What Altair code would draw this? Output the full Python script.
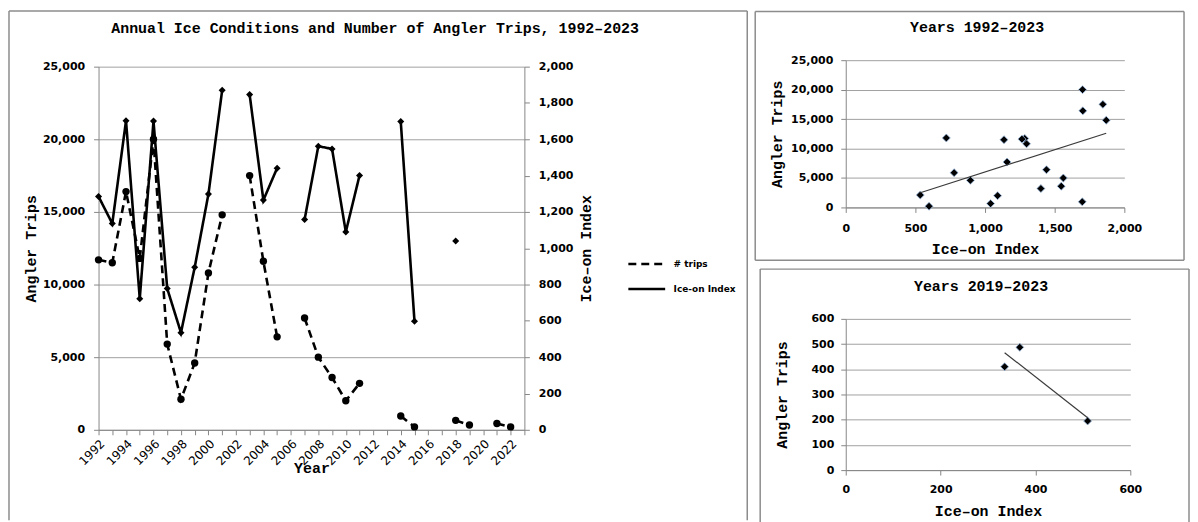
import altair as alt
import pandas as pd

# ---------------- data ----------------
years = list(range(1992, 2024))
trips = [11700, 11500, 16400, 11800, 20000, 5900, 2100, 4600, 10800, 14800, None,
         17500, 11600, 6400, None, 7700, 5000, 3600, 2000, 3200, None, None,
         950, 200, None, None, 650, 330, None, 430, 200, None]
ice = [1285, 1136, 1702, 722, 1700, 778, 535, 895, 1298, 1870, None,
       1846, 1265, 1441, None, 1158, 1562, 1547, 1090, 1401, None, None,
       1698, 598, None, None, 1040, None, None, None, None, None]
recent_ice = [335, 367, 510]
recent_trips = [410, 487, 195]

series_names = ["# trips", "Ice-on Index"]
trip_ticks = [0, 5000, 10000, 15000, 20000, 25000]
ice_ticks = [0, 200, 400, 600, 800, 1000, 1200, 1400, 1600, 1800, 2000]
scatter_x_ticks = [0, 500, 1000, 1500, 2000]
recent_ticks = [0, 100, 200, 300, 400, 500, 600]
recent_x_ticks = [0, 200, 400, 600]

df = pd.DataFrame({"Year": years, "trips": trips, "ice": ice})
pairs = df.dropna(subset=["trips", "ice"])
recent = pd.DataFrame({"ice": recent_ice, "trips": recent_trips})
one = pd.DataFrame({"k": [0]})

# ---------------- styles ----------------
MONO = "Liberation Mono"
SANS = "DejaVu Sans"
FR = "#8c8c8c"
GRID = "#a0a0a0"
AX = "#868686"
NUM = ",.0f"


def frame(left, top, right, bottom, closed):
    base = alt.Chart(one)
    parts = [
        base.mark_rule(color=FR, strokeWidth=1.5).encode(
            x=alt.value(left), y=alt.value(top), y2=alt.value(bottom)),
        base.mark_rule(color=FR, strokeWidth=1.5).encode(
            x=alt.value(left), x2=alt.value(right), y=alt.value(top)),
        base.mark_rule(color=FR, strokeWidth=1.5).encode(
            x=alt.value(right), y=alt.value(top), y2=alt.value(bottom)),
    ]
    if closed:
        parts.append(base.mark_rule(color=FR, strokeWidth=1.5).encode(
            x=alt.value(left), x2=alt.value(right), y=alt.value(bottom)))
    return alt.layer(*parts)


def ttl(text, dx, dy):
    return alt.TitleParams(text, font=MONO, fontSize=15, fontWeight="bold",
                           color="black", anchor="middle", offset=0,
                           baseline="alphabetic", dx=dx, dy=dy)


# ---------------- main dual-axis chart ----------------
xenc = alt.X(
    "Year:Q",
    scale=alt.Scale(domain=[1992, 2023], nice=False, zero=False),
    axis=alt.Axis(title="Year", values=years,
                  labelExpr="datum.value % 2 == 0 ? '' + datum.value : ''",
                  labelAngle=-45, labelAlign="right", labelBaseline="top",
                  labelOverlap=False, labelFlush=False,
                  labelFontWeight="normal", labelFontSize=12, labelPadding=3,
                  tickSize=5, grid=False, titleY=38, titleBaseline="middle"),
)
ytrips = alt.Y(
    "trips:Q",
    scale=alt.Scale(domain=[0, 25000], nice=False),
    axis=alt.Axis(title="Angler Trips", values=trip_ticks, format=NUM,
                  grid=True, tickSize=5, labelPadding=9,
                  titleX=-68, titleBaseline="middle"),
)
yice = alt.Y(
    "ice:Q",
    scale=alt.Scale(domain=[0, 2000], nice=False),
    axis=alt.Axis(title="Ice\u2013on Index", orient="right", values=ice_ticks,
                  format=NUM, grid=False, tickSize=5, labelPadding=9,
                  titleAngle=-90, titleX=61, titleBaseline="middle"),
)
dash_scale = alt.Scale(domain=series_names, range=[[8, 5], [1, 0]])
leg = alt.Legend(orient="none", legendX=531, legendY=185, title=None,
                 symbolType="stroke", symbolSize=1369, symbolStrokeWidth=2.5,
                 symbolStrokeColor="black", labelFont=SANS, labelFontSize=9,
                 labelFontWeight="bold", labelColor="black", labelOffset=7,
                 rowPadding=-13, padding=0)

trips_line = alt.Chart(df).transform_calculate(series="'# trips'").mark_line(
    color="black", strokeWidth=2.6, invalid="break-paths-show-domains"
).encode(x=xenc, y=ytrips,
         strokeDash=alt.StrokeDash("series:N", scale=dash_scale, legend=leg))
trips_pts = alt.Chart(df).mark_point(
    shape="circle", filled=True, color="black", size=55, opacity=1
).encode(x=xenc, y=ytrips)

ice_line = alt.Chart(df).transform_calculate(series="'Ice-on Index'").mark_line(
    color="black", strokeWidth=2.6, invalid="break-paths-show-domains"
).encode(x=xenc, y=yice,
         strokeDash=alt.StrokeDash("series:N", scale=dash_scale, legend=leg))
ice_pts = alt.Chart(df).mark_point(
    shape="diamond", filled=True, color="black", size=50, opacity=1
).encode(x=xenc, y=yice)

main = alt.layer(
    frame(-90, -56, 652, 456, False),
    alt.layer(trips_line, trips_pts),
    alt.layer(ice_line, ice_pts),
).resolve_scale(y="independent").properties(
    width=428, height=365,
    title=ttl("Annual Ice Conditions and Number of Angler Trips, 1992\u20132023", 64, 38),
)


# ---------------- scatter panels ----------------
def scatter(data, xdom, xticks, ydom, yticks, xlab_pad, ylab_pad, ytitle_x):
    xs = alt.X("ice:Q", scale=alt.Scale(domain=xdom, nice=False),
               axis=alt.Axis(title="Ice\u2013on Index", values=xticks, format=NUM,
                             grid=False, tickSize=5, labelPadding=xlab_pad,
                             labelFlush=False, titleY=41, titleBaseline="middle"))
    ys = alt.Y("trips:Q", scale=alt.Scale(domain=ydom, nice=False),
               axis=alt.Axis(title="Angler Trips", values=yticks, format=NUM,
                             grid=True, tickSize=5, labelPadding=ylab_pad,
                             titleX=ytitle_x, titleBaseline="middle"))
    pts = alt.Chart(data).mark_point(
        shape="diamond", filled=True, fill="black", stroke="#9dbbe0",
        strokeWidth=0.8, size=64, opacity=1).encode(x=xs, y=ys)
    fit = alt.Chart(data).transform_regression("ice", "trips").mark_line(
        color="#3a3a3a", strokeWidth=1.2).encode(x=xs, y=ys)
    return pts, fit


p1, f1 = scatter(pairs, [0, 2000], scatter_x_ticks, [0, 25000], trip_ticks, 10, 8, -70)
top_right = alt.layer(frame(-91, -49, 340, 201, True), p1, f1).properties(
    width=280, height=148, title=ttl("Years 1992\u20132023", -8, 36))

p2, f2 = scatter(recent, [0, 600], recent_x_ticks, [0, 600], recent_ticks, 9, 7, -65)
bottom_right = alt.layer(frame(-86, -50, 345, 209, False), p2, f2).properties(
    width=286, height=152, title=ttl("Years 2019\u20132023", -7, 38))

chart = alt.hconcat(
    main, alt.vconcat(top_right, bottom_right, spacing=7), spacing=6, center=True
).properties(padding=0).configure_view(strokeWidth=0).configure_axis(
    labelFont=SANS, labelFontSize=11, labelFontWeight="bold", labelColor="black",
    titleFont=MONO, titleFontSize=15, titleFontWeight="bold", titleColor="black",
    domainColor=AX, tickColor=AX, gridColor=GRID,
)

chart.save("out.html", embed_options={"renderer": "svg", "actions": False})
